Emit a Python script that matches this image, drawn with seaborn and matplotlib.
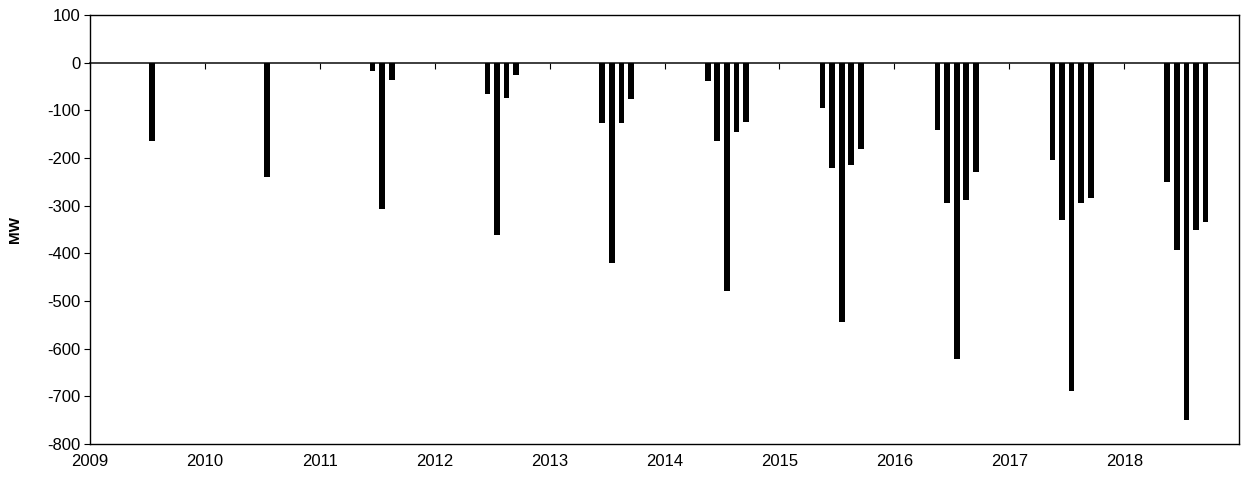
import matplotlib
matplotlib.use("Agg")
import matplotlib.pyplot as plt
import pandas as pd
import seaborn as sns

# Monthly net capacity change (MW), summer months of each year
year = [2009,
        2010,
        2011, 2011, 2011,
        2012, 2012, 2012, 2012,
        2013, 2013, 2013, 2013,
        2014, 2014, 2014, 2014, 2014,
        2015, 2015, 2015, 2015, 2015,
        2016, 2016, 2016, 2016, 2016,
        2017, 2017, 2017, 2017, 2017,
        2018, 2018, 2018, 2018, 2018]
month = [7,
         7,
         6, 7, 8,
         6, 7, 8, 9,
         6, 7, 8, 9,
         5, 6, 7, 8, 9,
         5, 6, 7, 8, 9,
         5, 6, 7, 8, 9,
         5, 6, 7, 8, 9,
         5, 6, 7, 8, 9]
mw = [-165,
      -240,
      -18, -307, -37,
      -66, -362, -74, -25,
      -127, -420, -126, -76,
      -38, -165, -478, -145, -125,
      -95, -220, -543, -215, -180,
      -142, -295, -622, -288, -230,
      -203, -330, -688, -295, -283,
      -250, -392, -750, -350, -333]

year_ticks = list(range(2009, 2019))
y_ticks = list(range(-800, 101, 100))

df = pd.DataFrame({"year": year, "month": month, "MW": mw})
df["t"] = df["year"] + (df["month"] - 0.5) / 12.0

sns.set_theme(style="white")
plt.rcParams["font.family"] = ["Liberation Sans", "DejaVu Sans"]
plt.rcParams["axes.unicode_minus"] = False
plt.rcParams["text.color"] = "black"
plt.rcParams["axes.labelcolor"] = "black"
plt.rcParams["xtick.color"] = "black"
plt.rcParams["ytick.color"] = "black"

fig = plt.figure(figsize=(12.41, 4.88), dpi=100)
ax = fig.add_axes([0.0725, 0.09, 0.926, 0.879])

sns.barplot(data=df, x="t", y="MW", native_scale=True, color="black",
            saturation=1, width=0.6, errorbar=None, linewidth=0, ax=ax)

ax.set_xlim(2009, 2019)
ax.set_ylim(-800, 100)
ax.set_xticks(year_ticks)
ax.set_xticklabels([str(y) for y in year_ticks])
ax.set_yticks(y_ticks)
ax.set_xlabel("")
ax.set_ylabel("MW", fontsize=11, fontweight="bold", labelpad=18, color="black")

for side in ["left", "right", "top", "bottom"]:
    ax.spines[side].set_visible(True)
    ax.spines[side].set_color("black")
    ax.spines[side].set_linewidth(1.0)

ax.tick_params(axis="x", which="both", length=0, labelsize=12, pad=7,
               labelcolor="black")
ax.tick_params(axis="y", which="both", direction="out", length=4,
               width=0.8, color="black", labelsize=12, left=True, pad=3,
               labelcolor="black")

# Horizontal axis line at zero with year tick marks
zero_pos = (0 - (-800)) / 900.0
sec = ax.secondary_xaxis(zero_pos)
sec.set_xticks(year_ticks)
sec.tick_params(axis="x", direction="out", length=4, width=0.8,
                color="black", labelbottom=False, labeltop=False,
                bottom=True, top=False)
sec.spines["bottom"].set_color("black")
sec.spines["bottom"].set_linewidth(1.0)

fig.savefig("out.png", dpi=100, facecolor="white")
